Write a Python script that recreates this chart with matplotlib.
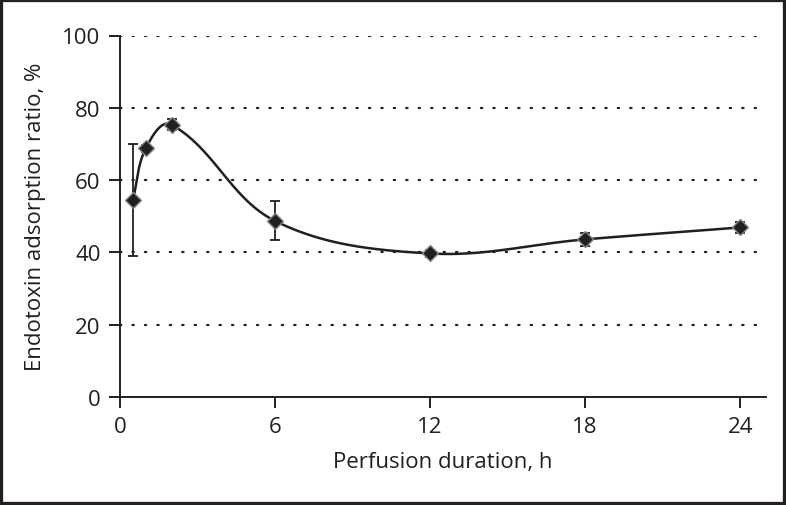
import numpy as np
import matplotlib
matplotlib.use("Agg")
import matplotlib.pyplot as plt
from matplotlib.patches import Rectangle

# Data
hours = [0.5, 1, 2, 6, 12, 18, 24]
ratio = [54.5, 68.8, 75.3, 48.7, 39.7, 43.6, 46.9]
err = [15.4, 1.0, 1.5, 5.4, 1.0, 1.8, 1.4]
xticks = [0, 6, 12, 18, 24]
yticks = [0, 20, 40, 60, 80, 100]

plt.rcParams['font.family'] = ['Open Sans', 'DejaVu Sans']

def smooth_curve(xs, ys, sx, sy, frac=0.35, n=80):
    """Bezier smoothing computed in display-proportional units."""
    P = np.column_stack([np.asarray(xs, float) * sx, np.asarray(ys, float) * sy])
    m = len(P)
    dirs = []
    for i in range(m):
        a = P[i - 1] if i > 0 else P[i]
        b = P[i + 1] if i < m - 1 else P[i]
        d = b - a
        dirs.append(d / np.linalg.norm(d))
    out = []
    for i in range(m - 1):
        p1, p2 = P[i], P[i + 1]
        L = np.linalg.norm(p2 - p1) * frac
        c1 = p1 + dirs[i] * L
        c2 = p2 - dirs[i + 1] * L
        t = np.linspace(0, 1, n)[:, None]
        seg = ((1 - t) ** 3) * p1 + 3 * ((1 - t) ** 2) * t * c1 + 3 * (1 - t) * t ** 2 * c2 + t ** 3 * p2
        out.append(seg if i == 0 else seg[1:])
    C = np.vstack(out)
    return C[:, 0] / sx, C[:, 1] / sy

fig = plt.figure(figsize=(7.86, 5.06), dpi=100)
ax = fig.add_axes([120 / 786, 1 - 398 / 506, 646 / 786, 361.5 / 506])

dark = '#231f20'
for y in yticks[1:]:
    ax.plot([0, 25], [y, y], color=dark, lw=1.6, linestyle=(0, (0.6, 5)),
            dash_capstyle='round', zorder=1)

ax.set_xlim(0, 25)
ax.set_ylim(0, 100)
sx = 646 / 25.0
sy = 361.5 / 100.0
cx, cy = smooth_curve(hours, ratio, sx, sy)
ax.plot(cx, cy, color=dark, lw=1.8, zorder=3)
ax.errorbar(hours, ratio, yerr=err, fmt='none', ecolor=dark, elinewidth=1.3,
            capsize=3.5, capthick=1.3, zorder=4)
ax.plot(hours, ratio, linestyle='none', marker='D', markersize=8.5,
        markerfacecolor=dark, markeredgecolor='#888888', markeredgewidth=1.0, zorder=5)

ax.set_xticks(xticks)
ax.set_yticks(yticks)
for s in ['top', 'right']:
    ax.spines[s].set_visible(False)
for s in ['left', 'bottom']:
    ax.spines[s].set_color(dark)
    ax.spines[s].set_linewidth(1.4)
ax.tick_params(axis='both', direction='out', length=8, width=1.4, color=dark,
               labelsize=16, labelcolor=dark, pad=6)
ax.set_xlabel('Perfusion duration, h', fontsize=16, color=dark, labelpad=10)
ax.set_ylabel('Endotoxin adsorption ratio, %', fontsize=16, color=dark, labelpad=12)

fig.patches.append(Rectangle((0, 0), 1, 1, transform=fig.transFigure, fill=False,
                             edgecolor=dark, linewidth=4.5, zorder=10))

fig.savefig('out.png', dpi=100)
